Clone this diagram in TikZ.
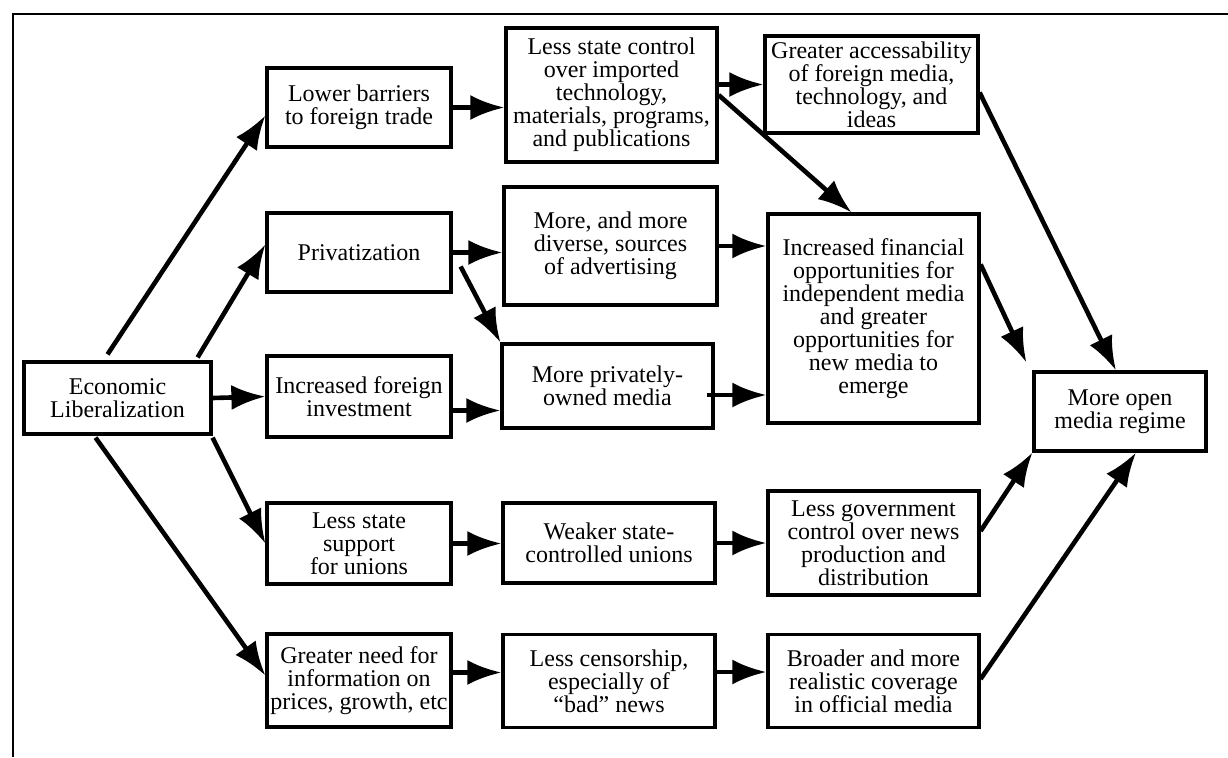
\documentclass[tikz,border=0pt]{standalone}
\usepackage{fontspec}
\setmainfont{Liberation Serif}
\usetikzlibrary{arrows.meta}

\begin{document}
\begin{tikzpicture}[x=0.5pt,y=-0.5pt,
    box/.style={draw,line width=1.6pt,align=center,inner sep=1pt,font=\fontsize{12}{11.5}\selectfont},
    arr/.style={line width=2.3pt,-{Latex[length=17pt,width=12.5pt]}}]
    \useasboundingbox (0,0) rectangle (1228,757);
    \draw[line width=1.3pt] (13,757) -- (13,14) -- (1228,14); % frame

    % first column
    \node[box,minimum width=93.5pt,minimum height=36pt] (econ) at (117.5,398) {Economic\\Liberalization};
    \node[box,minimum width=92pt,minimum height=39.5pt] (lower) at (359,107.5) {Lower barriers\\to foreign trade};
    \node[box,minimum width=92pt,minimum height=39.5pt] (priv) at (359,252.5) {Privatization};
    \node[box,minimum width=92pt,minimum height=40.5pt] (invest) at (359,396.5) {Increased foreign\\investment};
    \node[box,minimum width=92pt,minimum height=40.5pt] (support) at (359,543.5) {Less state\\support\\for unions};
    \node[box,minimum width=92pt,minimum height=46.5pt] (need) at (359,680.5) {Greater need for\\information on\\prices, growth, etc};

    % second column
    \node[box,minimum width=105.5pt,minimum height=67pt] (ctrl) at (611.5,95) {Less state control\\over imported\\technology,\\materials, programs,\\and publications};
    \node[box,minimum width=106.5pt,minimum height=59pt] (adv) at (610.5,246) {More, and more\\diverse, sources\\of advertising};
    \node[box,minimum width=105.5pt,minimum height=42pt] (privown) at (607.5,386) {More privately-\\owned media};
    \node[box,minimum width=106pt,minimum height=40pt] (weak) at (609,543) {Weaker state-\\controlled unions};
    \node[box,minimum width=106pt,minimum height=46.5pt] (cens) at (609,681) {Less censorship,\\especially of\\``bad'' news};

    % third column
    \node[box,minimum width=106.5pt,minimum height=48.5pt] (access) at (871.5,84.5) {Greater accessability\\of foreign media,\\technology, and\\ideas};
    \node[box,minimum width=105.5pt,minimum height=104.5pt] (fin) at (873.5,318.5) {Increased financial\\opportunities for\\independent media\\and greater\\opportunities for\\new media to\\emerge};
    \node[box,minimum width=105.5pt,minimum height=52pt] (gov) at (873.5,543) {Less government\\control over news\\production and\\distribution};
    \node[box,minimum width=105.5pt,minimum height=46.5pt] (broad) at (873.5,681) {Broader and more\\realistic coverage\\in official media};

    \node[box,minimum width=86pt,minimum height=39.5pt] (open) at (1120,411.5) {More open\\media regime};

    % arrows
    \draw[arr] ([xshift=-5pt,yshift=3pt]econ.north) -- ([yshift=-4pt]lower.west);
    \draw[arr] ([xshift=-7.5pt,yshift=1.5pt]econ.north east) -- ([yshift=4pt]priv.west);
    \draw[arr] (econ.east) -- (invest.west);
    \draw[arr] ([yshift=-1pt]econ.south east) -- (support.west);
    \draw[arr] ([xshift=-11pt,yshift=-1pt]econ.south) -- ([yshift=2.5pt]need.west);

    \draw[arr] (lower.east) -- (lower.east -| ctrl.west);
    \draw[arr] (priv.east) -- (priv.east -| adv.west);
    \draw[arr] ([xshift=4pt,yshift=-7pt]priv.east) -- (privown.north west);
    \draw[arr] ([yshift=-7pt]invest.east) -- ([yshift=-7pt]invest.east -| privown.west);
    \draw[arr] (support.east) -- (support.east -| weak.west);
    \draw[arr] ([yshift=4pt]need.east) -- ([yshift=4pt]need.east -| cens.west);

    \draw[arr] (ctrl.east |- access.west) -- (access.west);
    \draw[arr] (ctrl.east) -- ([xshift=-11pt]fin.north);
    \draw[arr] (adv.east) -- (adv.east -| fin.west);
    \draw[arr] ([xshift=-4pt,yshift=-4.5pt]privown.east) -- ([yshift=-4.5pt]privown.east -| fin.west);
    \draw[arr] (weak.east) -- (weak.east -| gov.west);
    \draw[arr] ([yshift=4.5pt]cens.east) -- ([yshift=4.5pt]cens.east -| broad.west);

    \draw[arr] ([yshift=-4pt]access.east) -- ([xshift=-2pt]open.north);
    \draw[arr] ([yshift=-26pt]fin.north east) -- ([xshift=-3pt,yshift=4pt]open.north west);
    \draw[arr] ([yshift=6pt]gov.east) -- (open.south west);
    \draw[arr] ([yshift=1pt]broad.east) -- ([xshift=8pt]open.south);
\end{tikzpicture}
\end{document}
